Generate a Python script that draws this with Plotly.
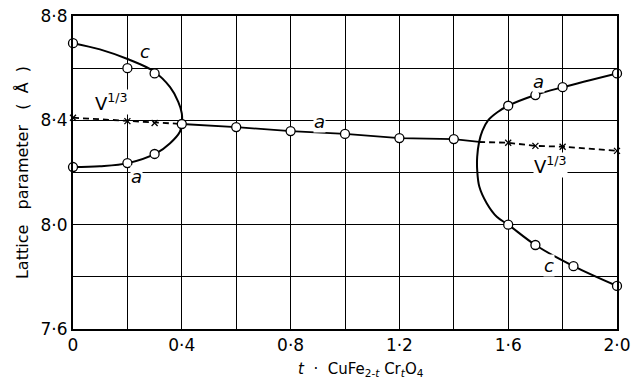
import plotly.graph_objects as go

# ---- measured points (open circles) ----
c_left_x = [0, 0.2, 0.3]
c_left_y = [8.696, 8.600, 8.580]
a_left_x = [0, 0.2, 0.3]
a_left_y = [8.221, 8.236, 8.271]
a_mid_x = [0.4, 0.6, 0.8, 1.0, 1.2, 1.4]
a_mid_y = [8.386, 8.374, 8.359, 8.348, 8.332, 8.328]
a_right_x = [1.6, 1.7, 1.8, 2.0]
a_right_y = [8.456, 8.497, 8.527, 8.580]
c_right_x = [1.6, 1.7, 1.84, 2.0]
c_right_y = [8.000, 7.922, 7.841, 7.765]

# ---- V^1/3 points (crosses) ----
v_left_x = [0, 0.2, 0.3]
v_left_y = [8.410, 8.397, 8.390]
v_right_x = [1.6, 1.7, 1.8, 2.0]
v_right_y = [8.314, 8.302, 8.299, 8.283]

# ---- drawn curves ----
loop_left_x = [0, 0.099, 0.203, 0.295, 0.357, 0.387, 0.400, 0.400, 0.393, 0.357, 0.307, 0.203, 0.099, 0]
loop_left_y = [8.696, 8.672, 8.634, 8.589, 8.527, 8.471, 8.427, 8.386, 8.356, 8.312, 8.274, 8.236, 8.224, 8.221]
mid_line_x = [0.4, 0.6, 0.8, 1.0, 1.2, 1.4, 1.493]
mid_line_y = [8.386, 8.374, 8.359, 8.348, 8.332, 8.328, 8.317]
v_line_left_x = [0, 0.2, 0.3, 0.4]
v_line_left_y = [8.410, 8.397, 8.390, 8.386]
v_line_right_x = [1.493, 1.6, 1.7, 1.8, 2.0]
v_line_right_y = [8.317, 8.314, 8.302, 8.299, 8.283]
loop_right_x = [2.0, 1.8, 1.7, 1.6, 1.563, 1.526, 1.505, 1.493, 1.486, 1.486, 1.494, 1.521, 1.558, 1.6, 1.7, 1.84, 2.0]
loop_right_y = [8.580, 8.527, 8.497, 8.456, 8.433, 8.400, 8.360, 8.317, 8.260, 8.210, 8.145, 8.082, 8.030, 8.000, 7.922, 7.841, 7.765]

# ---- ticks ----
x_tickvals = [0, 0.4, 0.8, 1.2, 1.6, 2.0]
x_ticktext = ["0", "0·4", "0·8", "1·2", "1·6", "2·0"]
y_tickvals = [7.6, 8.0, 8.4, 8.8]
y_ticktext = ["7·6", "8·0", "8·4", "8·8"]

FONT = "DejaVu Sans"
fig = go.Figure()

solid = dict(color="black", width=2, shape="spline", smoothing=1)
fig.add_trace(go.Scatter(x=loop_left_x, y=loop_left_y, mode="lines", line=solid, hoverinfo="skip"))
fig.add_trace(go.Scatter(x=loop_right_x, y=loop_right_y, mode="lines", line=solid, hoverinfo="skip"))
fig.add_trace(go.Scatter(x=mid_line_x, y=mid_line_y, mode="lines",
                         line=dict(color="black", width=1.8), hoverinfo="skip"))
dash = dict(color="black", width=1.8, dash="6px,4px")
fig.add_trace(go.Scatter(x=v_line_left_x, y=v_line_left_y, mode="lines", line=dash, hoverinfo="skip"))
fig.add_trace(go.Scatter(x=v_line_right_x, y=v_line_right_y, mode="lines", line=dash, hoverinfo="skip"))

circ = dict(symbol="circle", size=9, color="white", line=dict(color="black", width=1.3))
for xs, ys in [(c_left_x, c_left_y), (a_left_x, a_left_y), (a_mid_x, a_mid_y),
               (a_right_x, a_right_y), (c_right_x, c_right_y)]:
    fig.add_trace(go.Scatter(x=xs, y=ys, mode="markers", marker=circ, cliponaxis=False))
cross = dict(symbol="x-thin", size=6, color="black", line=dict(color="black", width=1.3))
for xs, ys in [(v_left_x, v_left_y), (v_right_x, v_right_y)]:
    fig.add_trace(go.Scatter(x=xs, y=ys, mode="markers", marker=cross, cliponaxis=False))

lab_font = dict(family=FONT, size=18, color="black")
labels = [
    (0.265, 8.662, "<i>c</i>"),
    (0.143, 8.470, "V<sup>1/3</sup>"),
    (0.235, 8.185, "<i>a</i>"),
    (0.908, 8.396, "<i>a</i>"),
    (1.71, 8.547, "<i>a</i>"),
    (1.754, 8.228, "V<sup>1/3</sup>"),
    (1.75, 7.845, "<i>c</i>"),
]
for x, y, t in labels:
    fig.add_annotation(x=x, y=y, text=t, showarrow=False, font=lab_font,
                       bgcolor="white", borderpad=0)

fig.add_annotation(x=1.059, y=-0.128, xref="x", yref="paper", yanchor="middle",
                   text="<i>t</i>  ·  CuFe<sub>2-<i>t</i></sub> Cr<sub><i>t</i></sub>O<sub>4</sub>",
                   showarrow=False, font=dict(family=FONT, size=15, color="black"))

fig.update_layout(
    width=632, height=383,
    margin=dict(l=73, r=15, t=16, b=54, autoexpand=False),
    plot_bgcolor="white", paper_bgcolor="white",
    showlegend=False,
    font=dict(family=FONT, size=17, color="black"),
)
grid = dict(showgrid=True, gridcolor="black", gridwidth=1.3)
fig.update_xaxes(range=[0, 2.0], tickmode="array", tickvals=x_tickvals, ticktext=x_ticktext,
                 zeroline=False, showline=True, linecolor="black", linewidth=2, mirror=True,
                 ticks="", automargin=False, tickfont=dict(family=FONT, size=17),
                 minor=dict(tickmode="linear", tick0=0, dtick=0.2, ticks="", **grid), **grid)
fig.update_yaxes(range=[7.6, 8.8], tickmode="array", tickvals=y_tickvals, ticktext=y_ticktext,
                 zeroline=False, showline=True, linecolor="black", linewidth=2, mirror=True,
                 ticks="", automargin=False, tickfont=dict(family=FONT, size=17),
                 minor=dict(tickmode="linear", tick0=7.6, dtick=0.2, ticks="", **grid), **grid,
                 title=dict(text="Lattice   parameter   (  Å  )", font=dict(family=FONT, size=16),
                            standoff=8))

fig.write_html("out.html", config={"displayModeBar": False},
               post_script="document.body.style.margin='0px';")
